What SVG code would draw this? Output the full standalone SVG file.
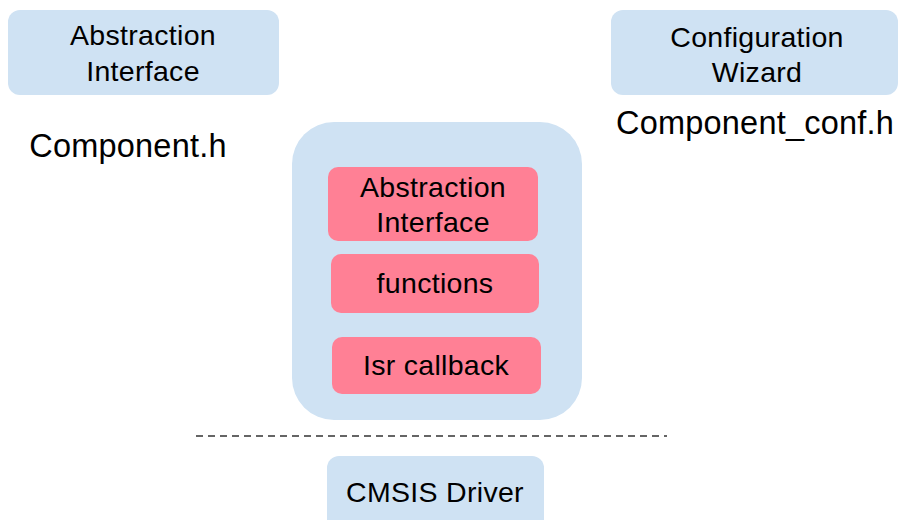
<svg xmlns="http://www.w3.org/2000/svg" width="900" height="520" viewBox="0 0 900 520">
<style>
.blue{fill:#cfe2f3}
.pink{fill:#ff8095}
text{font-family:"Liberation Sans",Arial,sans-serif;font-size:28.5px;letter-spacing:0.3px;fill:#000;text-anchor:middle}
.big{font-size:32.5px;letter-spacing:0.2px}
.dash{stroke:#333;stroke-width:1.5;stroke-dasharray:7 5;fill:none}
</style>
<rect width="900" height="520" fill="#fff"/>
<g id="abstraction-interface">
<rect class="blue" x="8" y="10" width="271" height="85" rx="12"/>
<text x="143" y="45">Abstraction</text>
<text x="143" y="81">Interface</text>
</g>
<g id="component-h">
<text class="big" x="128" y="157">Component.h</text>
</g>
<g id="configuration-wizard">
<rect class="blue" x="611" y="10" width="287" height="85" rx="12"/>
<text x="757" y="47">Configuration</text>
<text x="757" y="82">Wizard</text>
</g>
<g id="component-conf-h">
<text class="big" x="755" y="134">Component_conf.h</text>
</g>
<g id="component">
<rect class="blue" x="292" y="122" width="290" height="298" rx="42"/>
</g>
<g id="abstraction-interface-inner">
<rect class="pink" x="328" y="167" width="210" height="74" rx="10"/>
<text x="433" y="197">Abstraction</text>
<text x="433" y="232">Interface</text>
</g>
<g id="functions">
<rect class="pink" x="331" y="254" width="208" height="59" rx="10"/>
<text x="435" y="293">functions</text>
</g>
<g id="isr-callback">
<rect class="pink" x="332" y="337" width="209" height="57" rx="10"/>
<text x="436" y="375">Isr callback</text>
</g>
<g id="connectors">
<line class="dash" x1="196" y1="436" x2="667" y2="436"/>
</g>
<g id="cmsis-driver">
<rect class="blue" x="327" y="456" width="217" height="75" rx="12"/>
<text x="435" y="502">CMSIS Driver</text>
</g>
</svg>
